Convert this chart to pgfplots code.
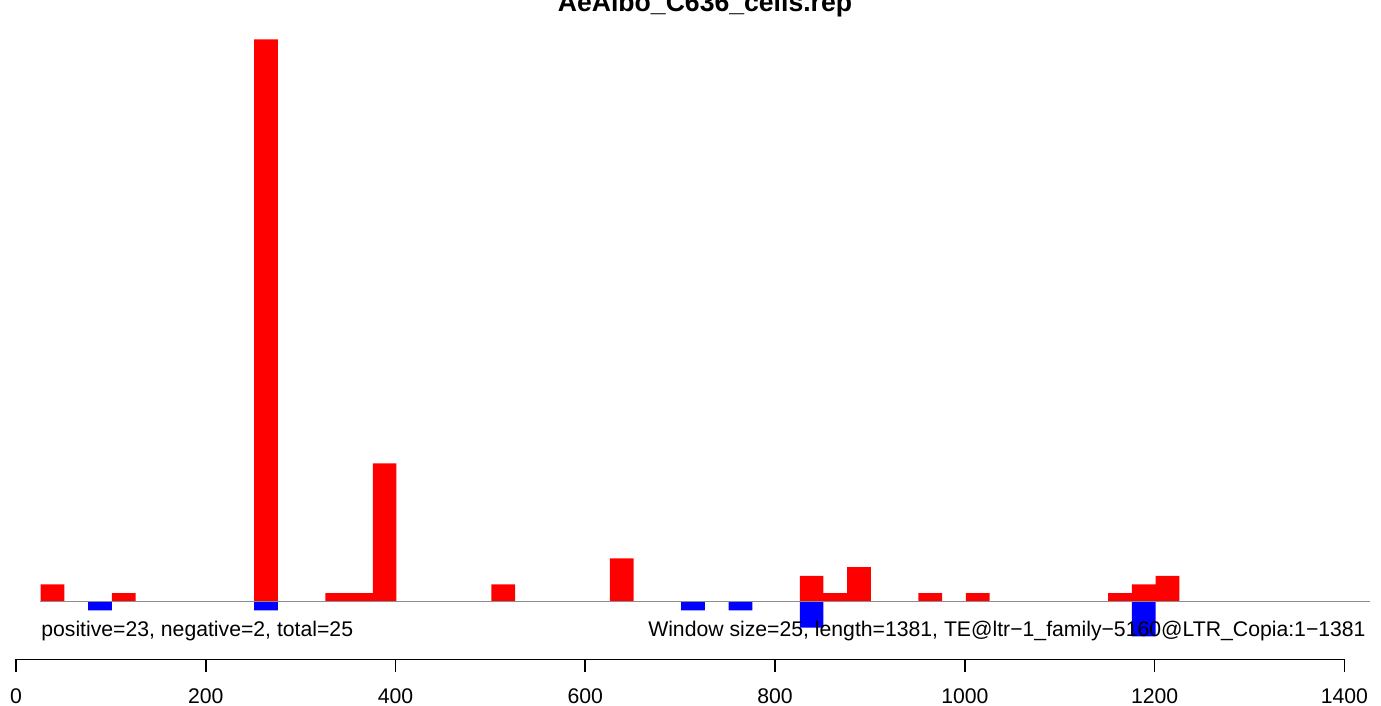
\documentclass[border=0pt]{standalone}
\usepackage{pgfplots}
\pgfplotsset{compat=1.18}
\usepackage{fontspec}
\setmainfont{Liberation Sans}

\begin{document}
\begin{tikzpicture}
\useasboundingbox (0,0) rectangle (690.5pt,353pt);
% title (cut at the top like the original)
\node[anchor=base, inner sep=0pt, font=\fontsize{13.3}{16}\selectfont\bfseries]
  at (352.5pt,347pt) {AeAlbo\_C636\_cells.rep};
\begin{axis}[
    at={(8pt,23.25pt)}, anchor=south west,
    scale only axis, width=677pt, height=310pt,
    xmin=0, xmax=1427, ymin=-6.68, ymax=65,
    clip=false,
    axis line style={draw=none},
    ytick=\empty,
    xtick={0,200,...,1400},
    xtick pos=lower,
    tick align=outside,
    major tick length=6.5pt,
    tick style={black, line width=0.85pt},
    /pgf/number format/assume math mode=true,
    /pgf/number format/1000 sep={},
    xticklabel style={anchor=base, yshift=-15.6pt, font=\fontsize{10.6}{12}\selectfont},
  ]
  % positive windows
  \addplot[ybar, bar width=25, bar shift=0pt, fill=red, draw=none] coordinates {
    (38.5,2) (113.5,1) (263.5,65) (338.5,1) (363.5,1) (388.5,16)
    (513.5,2) (638.5,5) (838.5,3) (863.5,1) (888.5,4) (963.5,1)
    (1013.5,1) (1163.5,1) (1188.5,2) (1213.5,3)
  };
  % negative windows
  \addplot[ybar, bar width=25, bar shift=0pt, fill=blue, draw=none] coordinates {
    (88.5,-1) (263.5,-1) (713.5,-1) (763.5,-1) (838.5,-3) (1188.5,-4)
  };
  \addplot[black!45, line width=0.6pt, no marks] coordinates {(25.3,0) (1427,0)};
  \draw[black, line width=0.85pt] (axis cs:0,-6.68) -- (axis cs:1400,-6.68);
  \node[anchor=base west, inner sep=0pt, font=\fontsize{10.6}{12}\selectfont]
    at (axis cs:26.3,-3.97) {positive=23, negative=2, total=25};
  \node[anchor=base east, inner sep=0pt, font=\fontsize{10.6}{12}\selectfont]
    at (axis cs:1422.8,-3.97) {Window size=25, length=1381, TE@ltr−1\_family−5160@LTR\_Copia:1−1381};
\end{axis}
\end{tikzpicture}
\end{document}
